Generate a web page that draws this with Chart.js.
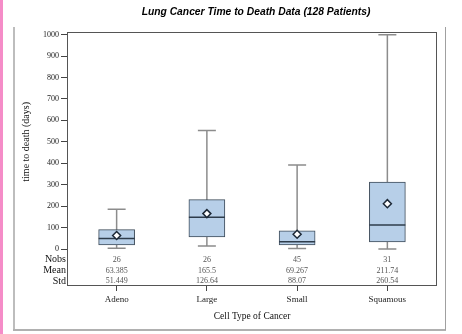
<!DOCTYPE html>
<html>
<head>
<meta charset="utf-8">
<script src="https://cdn.jsdelivr.net/npm/chart.js@4.4.1/dist/chart.umd.min.js"></script>
<style>
  body { margin: 0; background: #fff; }
  #wrap { position: relative; width: 462px; height: 334px; overflow: hidden; }
  .deco { position: absolute; }
  canvas { position: absolute; left: 0; top: 0; }
</style>
</head>
<body>
<div id="wrap">
  <div class="deco" style="left:0;top:0;width:3px;height:334px;background:#f58cc8"></div>
  <div class="deco" style="left:13px;top:27px;width:2px;height:303px;background:#bdbdbd"></div>
  <div class="deco" style="left:13px;top:329px;width:433px;height:2px;background:#b0b0b0"></div>
  <div class="deco" style="left:445px;top:27px;width:1px;height:303px;background:#a0a0a0"></div>
  <canvas id="chart" width="462" height="334"></canvas>
</div>
<script>
const categories = ['Adeno', 'Large', 'Small', 'Squamous'];
const whiskerLow = [4, 14, 3, 1];
const q1 = [20, 57, 20, 33];
const median = [49, 149, 34, 112];
const q3 = [91, 231, 85, 312];
const whiskerHigh = [186, 553, 392, 999];
const means = [63.385, 165.5, 69.267, 211.74];
const nobsText = ['26', '26', '45', '31'];
const meanText = ['63.385', '165.5', '69.267', '211.74'];
const stdText = ['51.449', '126.64', '88.07', '260.54'];
const yTicks = [0, 100, 200, 300, 400, 500, 600, 700, 800, 900, 1000];

const serif = '"Liberation Serif", "DejaVu Serif", serif';

// whiskers, medians, stats table, frame and titles
const boxExtras = {
    id: 'boxExtras',
    beforeDatasetsDraw(chart) {
        const {ctx, scales: {x, y}} = chart;
        ctx.save();
        ctx.strokeStyle = '#8c8c8c';
        ctx.lineWidth = 1.5;
        categories.forEach((c, i) => {
            const px = x.getPixelForValue(i);
            ctx.beginPath();
            ctx.moveTo(px, y.getPixelForValue(whiskerLow[i]));
            ctx.lineTo(px, y.getPixelForValue(whiskerHigh[i]));
            [whiskerLow[i], whiskerHigh[i]].forEach(v => {
                const py = y.getPixelForValue(v);
                ctx.moveTo(px - 9, py);
                ctx.lineTo(px + 9, py);
            });
            ctx.stroke();
        });
        ctx.restore();
    },
    afterDatasetDraw(chart, args) {
        if (args.index !== 0) return;
        const {ctx, scales: {x, y}} = chart;
        ctx.save();
        ctx.strokeStyle = '#2e3c4b';
        ctx.lineWidth = 1.5;
        categories.forEach((c, i) => {
            const px = x.getPixelForValue(i);
            const py = y.getPixelForValue(median[i]);
            ctx.beginPath();
            ctx.moveTo(px - 18, py);
            ctx.lineTo(px + 18, py);
            ctx.stroke();
        });
        ctx.restore();
    },
    afterDraw(chart) {
        const {ctx, chartArea: a, scales: {x, y}} = chart;
        ctx.save();
        // plot frame
        ctx.strokeStyle = '#555';
        ctx.lineWidth = 1;
        ctx.strokeRect(a.left + 0.5, a.top + 0.5, a.right - a.left - 1, a.bottom - a.top - 1);

        // stats table
        const rows = [['Nobs', nobsText], ['Mean', meanText], ['Std', stdText]];
        ctx.textBaseline = 'middle';
        rows.forEach((r, k) => {
            const py = y.getPixelForValue(-50 * (k + 1));
            ctx.font = '10px ' + serif;
            ctx.fillStyle = '#111';
            ctx.textAlign = 'right';
            ctx.fillText(r[0], a.left - 1, py);
            ctx.font = '8px ' + serif;
            ctx.fillStyle = '#555';
            ctx.textAlign = 'center';
            r[1].forEach((t, i) => ctx.fillText(t, x.getPixelForValue(i), py));
        });

        // titles
        ctx.fillStyle = '#000';
        ctx.textAlign = 'center';
        ctx.font = 'italic bold 10.3px "Liberation Sans", Arial, sans-serif';
        ctx.fillText('Lung Cancer Time to Death Data (128 Patients)', 256, 12);
        ctx.font = '9.5px ' + serif;
        ctx.fillStyle = '#111';
        ctx.fillText('Cell Type of Cancer', (a.left + a.right) / 2, 316);
        ctx.translate(26, (y.getPixelForValue(0) + y.getPixelForValue(1000)) / 2);
        ctx.rotate(-Math.PI / 2);
        ctx.font = '10px ' + serif;
        ctx.fillText('time to death (days)', 0, 0);
        ctx.restore();
    }
};

new Chart(document.getElementById('chart'), {
    data: {
        datasets: [{
            type: 'bar',
            data: categories.map((c, i) => ({x: i, y: [q1[i], q3[i]]})),
            backgroundColor: '#b7cfe8',
            borderColor: '#3d4b5a',
            borderWidth: 1,
            borderSkipped: false,
            barThickness: 36,
            order: 2
        }, {
            type: 'scatter',
            data: categories.map((c, i) => ({x: i, y: means[i]})),
            pointStyle: 'rectRot',
            pointRadius: 4,
            pointBackgroundColor: '#fff',
            pointBorderColor: '#1c2836',
            pointBorderWidth: 1.5,
            order: 1
        }]
    },
    options: {
        responsive: false,
        animation: false,
        layout: {padding: {top: 32, right: 25, bottom: 0, left: 0}},
        plugins: {legend: {display: false}, tooltip: {enabled: false}},
        scales: {
            x: {
                type: 'linear',
                min: -0.55,
                max: 3.55,
                offset: false,
                afterBuildTicks: axis => { axis.ticks = categories.map((c, i) => ({value: i})); },
                afterFit: axis => { axis.height = 48; },
                grid: {offset: false, drawOnChartArea: false, drawTicks: true, tickLength: 5, color: '#444'},
                border: {display: false},
                ticks: {
                    callback: v => categories[v],
                    font: {family: serif, size: 9},
                    color: '#222',
                    padding: 3,
                    maxRotation: 0
                }
            },
            y: {
                min: -172,
                max: 1012,
                afterBuildTicks: axis => { axis.ticks = yTicks.map(v => ({value: v})); },
                afterFit: axis => { axis.width = 67; },
                grid: {drawOnChartArea: false, drawTicks: true, tickLength: 6, color: '#444'},
                border: {display: false},
                ticks: {
                    callback: v => String(v),
                    font: {family: serif, size: 8},
                    color: '#222',
                    padding: 2
                }
            }
        }
    },
    plugins: [boxExtras]
});
</script>
</body>
</html>
